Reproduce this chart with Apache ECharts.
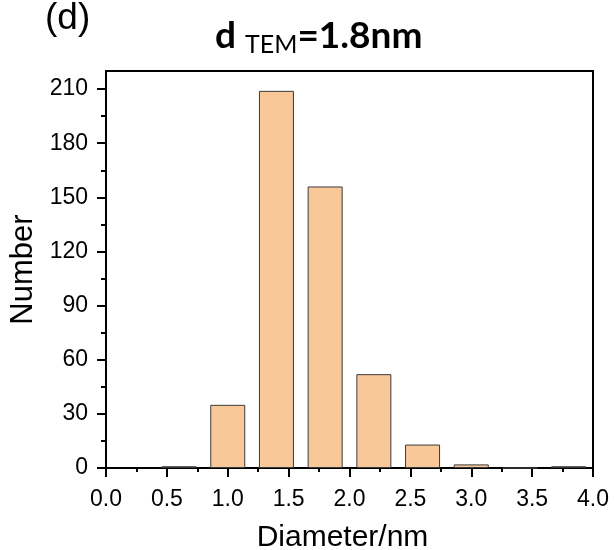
<!DOCTYPE html>
<html>
<head>
<meta charset="utf-8">
<script src="https://cdn.jsdelivr.net/npm/echarts@6/dist/echarts.min.js"></script>
<style>
  html, body { margin: 0; padding: 0; background: #fff; }
  #chart { width: 614px; height: 550px; }
</style>
</head>
<body>
<div id="chart"></div>
<script>
// Particle size histogram: bin centres (nm) and counts per bin
const binCenters = [0.6, 1.0, 1.4, 1.8, 2.2, 2.6, 3.0, 3.4, 3.8];
const counts     = [1,   35,  209, 156, 52,  13,  2,   0,   1];

// Axis ticks
const xTicks      = [0, 0.5, 1.0, 1.5, 2.0, 2.5, 3.0, 3.5, 4.0];
const yTicks      = [0, 30, 60, 90, 120, 150, 180, 210];
const yMinorTicks = [15, 45, 75, 105, 135, 165, 195];

const chart = echarts.init(document.getElementById('chart'), null, { renderer: 'canvas' });

const axisFont = 'Liberation Sans, Arial, sans-serif';
const titleFont = 'Lato, Open Sans, sans-serif';

chart.setOption({
  animation: false,
  backgroundColor: '#fff',
  title: [
    {
      text: '(d)',
      left: 40,
      top: -5,
      textStyle: { fontFamily: axisFont, fontSize: 37, fontWeight: 'normal', color: '#000' }
    },
    {
      text: '{a|d }{b|TEM}{a|=1.8nm}',
      left: 210,
      top: 10,
      textStyle: {
        rich: {
          a: { fontFamily: titleFont, fontSize: 37, fontWeight: 'bold', color: '#000', lineHeight: 42 },
          b: { fontFamily: titleFont, fontSize: 25, fontWeight: 'normal', color: '#000', lineHeight: 20, verticalAlign: 'bottom' }
        }
      }
    }
  ],
  grid: {
    left: 106,
    right: 21,
    top: 71,
    bottom: 82,
    outerBoundsMode: 'none',
    containLabel: false,
    show: true,
    borderColor: '#000',
    borderWidth: 2,
    backgroundColor: 'transparent'
  },
  xAxis: {
    type: 'value',
    min: 0,
    max: 4,
    interval: 0.5,
    name: 'Diameter/nm',
    nameLocation: 'middle',
    nameGap: 55,
    nameTextStyle: { fontFamily: axisFont, fontSize: 30, color: '#000', padding: [0, 14, 0, 0] },
    axisLine: { show: true, lineStyle: { color: '#000', width: 2 } },
    axisTick: { show: true, inside: false, length: 9, lineStyle: { color: '#000', width: 2 } },
    minorTick: { show: true, splitNumber: 2, length: 4, lineStyle: { color: '#000', width: 2 } },
    axisLabel: {
      customValues: xTicks,
      formatter: v => v.toFixed(1),
      fontFamily: axisFont,
      fontSize: 23,
      color: '#000',
      margin: 20
    },
    splitLine: { show: false },
    minorSplitLine: { show: false }
  },
  yAxis: [
    {
      type: 'value',
      min: 0,
      max: 220,
      interval: 30,
      name: 'Number',
      nameLocation: 'middle',
      nameGap: 67,
      nameTextStyle: { fontFamily: axisFont, fontSize: 31, color: '#000' },
      axisLine: { show: true, lineStyle: { color: '#000', width: 2 } },
      axisTick: { show: true, inside: false, length: 9, customValues: yTicks, lineStyle: { color: '#000', width: 2 } },
      axisLabel: {
        customValues: yTicks,
        fontFamily: axisFont,
        fontSize: 23,
        color: '#000',
        margin: 18
      },
      splitLine: { show: false }
    },
    {
      // minor tick marks between the labelled values
      type: 'value',
      position: 'left',
      min: 0,
      max: 220,
      interval: 30,
      axisLine: { show: false },
      axisTick: { show: true, inside: false, length: 5, customValues: yMinorTicks, lineStyle: { color: '#000', width: 2 } },
      axisLabel: { show: false },
      splitLine: { show: false }
    }
  ],
  series: [
    {
      type: 'bar',
      yAxisIndex: 0,
      barWidth: 35,
      data: binCenters.map((c, i) => [c, counts[i]]),
      itemStyle: {
        color: '#F9C899',
        borderColor: '#3a3a3a',
        borderWidth: 1
      }
    }
  ]
});
</script>
</body>
</html>
